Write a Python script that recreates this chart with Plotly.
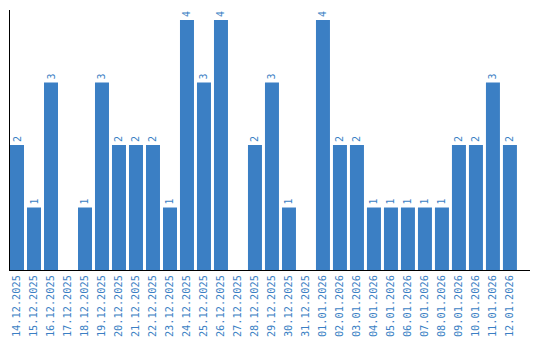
import plotly.graph_objects as go

dates = ["14.12.2025","15.12.2025","16.12.2025","17.12.2025","18.12.2025","19.12.2025",
         "20.12.2025","21.12.2025","22.12.2025","23.12.2025","24.12.2025","25.12.2025",
         "26.12.2025","27.12.2025","28.12.2025","29.12.2025","30.12.2025","31.12.2025",
         "01.01.2026","02.01.2026","03.01.2026","04.01.2026","05.01.2026","06.01.2026",
         "07.01.2026","08.01.2026","09.01.2026","10.01.2026","11.01.2026","12.01.2026"]
counts = [2,1,3,0,1,3,2,2,2,1,4,3,4,0,2,3,1,0,4,2,2,1,1,1,1,1,2,2,3,2]

labels = [str(v) if v > 0 else "" for v in counts]
blue = "#3b7fc4"
font = "DejaVu Sans Mono"

fig = go.Figure(go.Bar(
    x=list(range(len(dates))), y=counts, text=labels, textposition="outside",
    textangle=-90, cliponaxis=False, marker_color=blue, marker_line_width=0,
    textfont=dict(family=font, size=10, color=blue),
))
fig.update_layout(
    width=540, height=340, margin=dict(l=10, r=10, t=10, b=70),
    plot_bgcolor="white", paper_bgcolor="white", showlegend=False,
    bargap=3/17, uniformtext=dict(mode=False),
)
fig.update_xaxes(
    tickmode="array", tickvals=list(range(len(dates))), ticktext=dates,
    tickangle=-90, range=[-0.412, 30.18], showgrid=False, zeroline=False,
    showline=True, linecolor="black", linewidth=1, ticks="", automargin=False,
    tickfont=dict(family=font, size=10.3, color=blue),
)
fig.update_yaxes(
    range=[0, 4.16], showgrid=False, zeroline=False, showticklabels=False,
    showline=True, linecolor="black", linewidth=1, ticks="", automargin=False,
)
fig.write_html("out.html")
